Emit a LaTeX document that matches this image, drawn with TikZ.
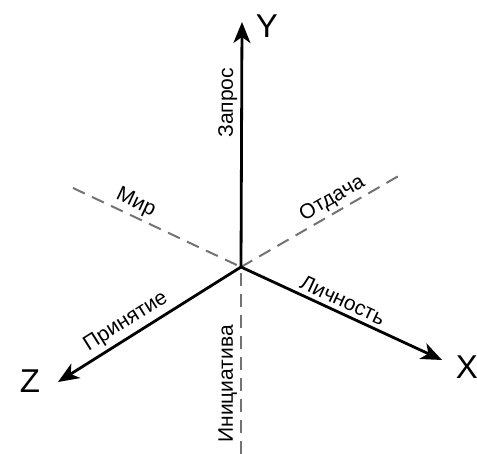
\documentclass[tikz,border=0pt]{standalone}
\usepackage{fontspec}
\setmainfont{Liberation Sans}
\usetikzlibrary{arrows.meta}

\begin{document}
\begin{tikzpicture}[
          x=1pt, y=-1pt,
          axis/.style={line width=2.8pt, draw=black},
          axisarr/.style={axis, -{Stealth[length=21pt, width=17pt, inset=6pt]}},
          axisarrback/.style={axis, {Stealth[length=21pt, width=17pt, inset=6pt]}-},
          guide/.style={line width=2pt, draw=black!55, dash pattern=on 13pt off 8pt},
          lbl/.style={font=\fontsize{21}{24}\selectfont, inner sep=1pt},
          axname/.style={font=\fontsize{33}{36}\selectfont, inner sep=0pt}
      ]
      \useasboundingbox (0,0) rectangle (477,454);
      \coordinate (O)     at (241,267);
      \coordinate (ytip)  at (242,22);
      \coordinate (xtip)  at (442,360);
      \coordinate (ztip)  at (58,382);
      \coordinate (mir)   at (73,188);
      \coordinate (otd)   at (402,174);
      \coordinate (ini)   at (241,454);
      \node[axname] (ylbl) at (267,26)  {Y};
      \node[axname] (xlbl) at (467,367) {X};
      \node[axname] (zlbl) at (30,381)  {Z};
      % dashed guides
      \draw[guide] (mir) -- node[lbl, sloped, above=2pt, pos=0.34] {Мир} (O);
      \draw[guide] (O) -- node[lbl, sloped, above=2pt, pos=0.61] {Отдача} (otd);
      \draw[guide] (ini) -- node[lbl, sloped, above=2pt, pos=0.375] {Инициатива} (O);
      % axes
      \draw[axisarr] (O) -- node[lbl, sloped, above=2pt, pos=0.67] {Запрос} (ytip);
      \draw[axisarr] (O) -- node[lbl, sloped, above=3pt, pos=0.48] {Личность} (xtip);
      \draw[axisarrback] (ztip) -- node[lbl, sloped, above=3pt, pos=0.415] {Принятие} (O);
\end{tikzpicture}
\end{document}
